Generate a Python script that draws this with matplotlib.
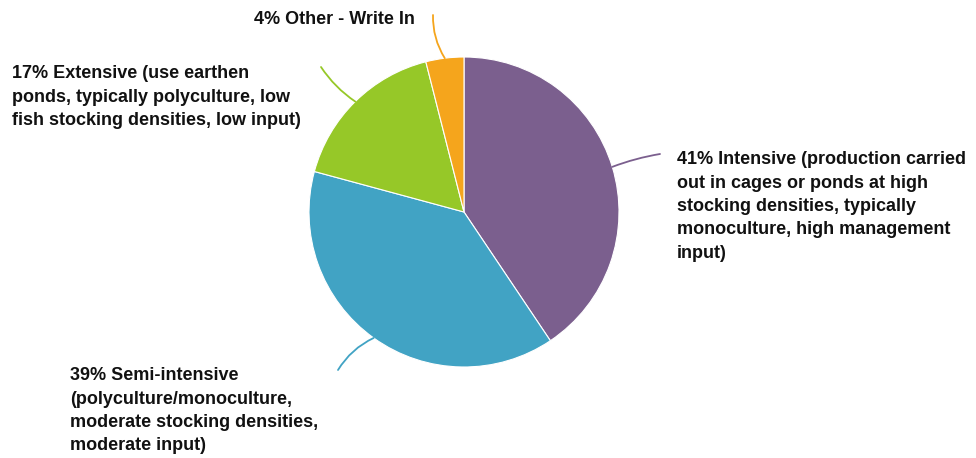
import numpy as np
import matplotlib
matplotlib.use("Agg")
import matplotlib.pyplot as plt

labels = ["41% Intensive (production carried\nout in cages or ponds at high\nstocking densities, typically\nmonoculture, high management\ninput)",
          "39% Semi-intensive\n(polyculture/monoculture,\nmoderate stocking densities,\nmoderate input)",
          "17% Extensive (use earthen\nponds, typically polyculture, low\nfish stocking densities, low input)",
          "4% Other - Write In"]
values = [41, 39, 17, 4]
colors = ["#7B5F8E", "#41A3C4", "#96C828", "#F5A51C"]

W, H = 976, 458
fig = plt.figure(figsize=(W / 100, H / 100), dpi=100)
ax = fig.add_axes([0, 0, 1, 1])

cx, cy, r = 464, H - 212, 155
wedges, _ = ax.pie(values, colors=colors, startangle=90, counterclock=False,
                   center=(cx, cy), radius=r, frame=True,
                   wedgeprops=dict(edgecolor="white", linewidth=0.8))
ax.set_xlim(0, W)
ax.set_ylim(0, H)
ax.axis("off")

# text anchor positions (pixel coords, top), leader end, alignment
text_pos = [(677, 151, "left"), (70, 367, "left"), (12, 65, "left"), (415, 11, "right")]
leader_end = [(660, 154), (338, 370), (321, 67), (433, 15)]
rads = [0.05, -0.15, 0.1, 0.15]

for w, lab, (tx, ty, ha), (lx, ly), col, rad in zip(wedges, labels, text_pos, leader_end, colors, rads):
    ang = np.deg2rad((w.theta1 + w.theta2) / 2)
    px, py = cx + r * np.cos(ang), cy + r * np.sin(ang)
    ax.annotate("", xy=(px, py), xytext=(lx, H - ly),
                arrowprops=dict(arrowstyle="-", color=col, lw=1.3,
                                connectionstyle=f"arc3,rad={rad}", shrinkA=0, shrinkB=0))
    ax.text(tx, H - ty, lab, ha=ha, va="top", fontsize=13, fontweight="bold",
            family=["Liberation Sans", "DejaVu Sans"], color="#111111", linespacing=1.5,
            multialignment="left")

fig.savefig("out.png", dpi=100)
